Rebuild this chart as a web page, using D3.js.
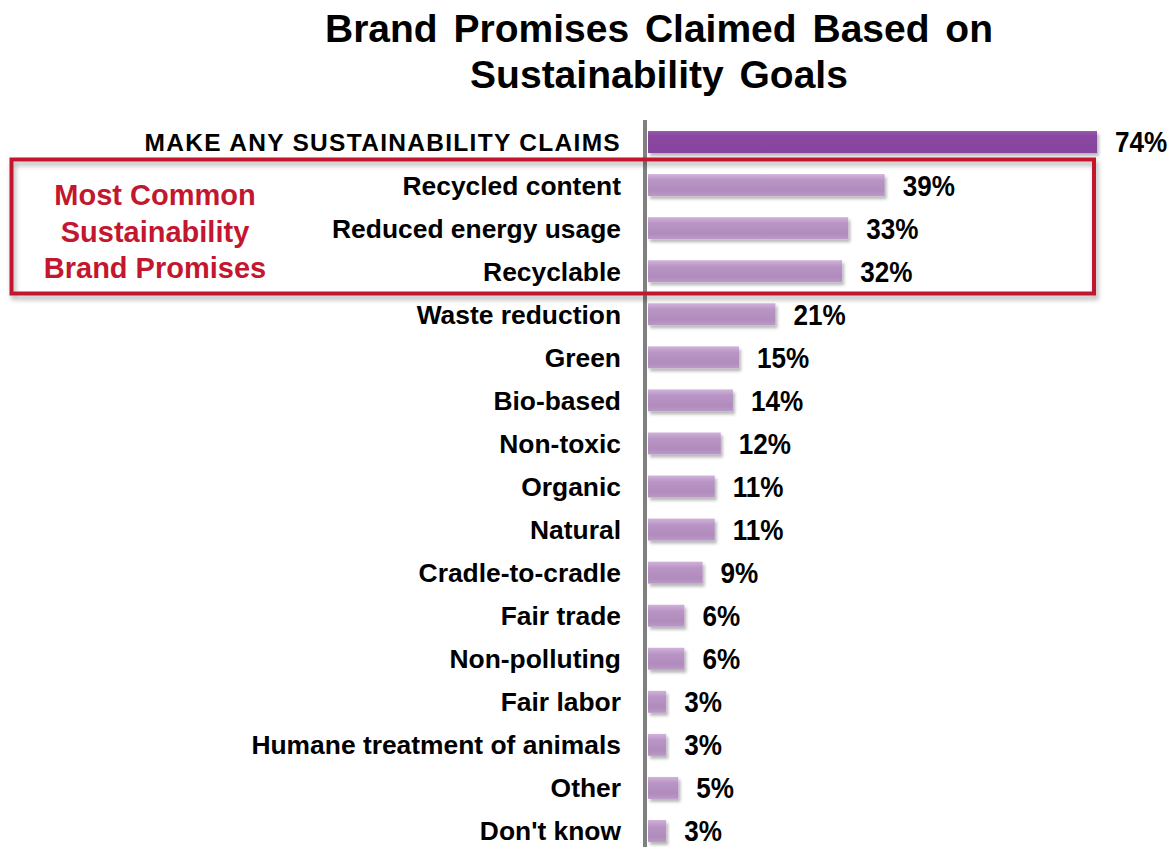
<!DOCTYPE html>
<html>
<head>
<meta charset="utf-8">
<script src="https://cdn.jsdelivr.net/npm/d3@7"></script>
<style>
  html, body { margin: 0; padding: 0; background: #ffffff; }
  svg { display: block; }
  text { font-family: "Liberation Sans", Arial, Helvetica, sans-serif; font-weight: bold; }
</style>
</head>
<body>
<svg id="chart" width="1173" height="847"></svg>
<script>
// Survey results: share of brands claiming each sustainability promise (%)
const categories = [
  "MAKE ANY SUSTAINABILITY CLAIMS",
  "Recycled content",
  "Reduced energy usage",
  "Recyclable",
  "Waste reduction",
  "Green",
  "Bio-based",
  "Non-toxic",
  "Organic",
  "Natural",
  "Cradle-to-cradle",
  "Fair trade",
  "Non-polluting",
  "Fair labor",
  "Humane treatment of animals",
  "Other",
  "Don't know"
];
const values = [74, 39, 33, 32, 21, 15, 14, 12, 11, 11, 9, 6, 6, 3, 3, 5, 3];

// Categories grouped inside the callout box
const highlighted = ["Recycled content", "Reduced energy usage", "Recyclable"];
const calloutLines = ["Most Common", "Sustainability", "Brand Promises"];
const titleLines = ["Brand Promises Claimed Based on", "Sustainability Goals"];

const data = categories.map((c, i) => ({ category: c, value: values[i] }));

const svg = d3.select("#chart");
const defs = svg.append("defs");

// soft drop shadow used by the bars and the callout box
const shadow = defs.append("filter").attr("id", "shadow")
  .attr("x", "-10%").attr("y", "-30%").attr("width", "130%").attr("height", "190%");
shadow.append("feDropShadow")
  .attr("dx", 2).attr("dy", 3).attr("stdDeviation", 1.8)
  .attr("flood-color", "#000").attr("flood-opacity", 0.28);

const boxShadow = defs.append("filter").attr("id", "boxShadow")
  .attr("x", "-5%").attr("y", "-10%").attr("width", "110%").attr("height", "130%");
boxShadow.append("feDropShadow")
  .attr("dx", 2).attr("dy", 4).attr("stdDeviation", 2.5)
  .attr("flood-color", "#000").attr("flood-opacity", 0.3);

// lavender fill for the individual promises
const lightGrad = defs.append("linearGradient").attr("id", "lightBar")
  .attr("x1", 0).attr("y1", 0).attr("x2", 0).attr("y2", 1);
lightGrad.append("stop").attr("offset", "0%").attr("stop-color", "#d1b3da");
lightGrad.append("stop").attr("offset", "28%").attr("stop-color", "#b995c5");
lightGrad.append("stop").attr("offset", "75%").attr("stop-color", "#b08bbc");
lightGrad.append("stop").attr("offset", "100%").attr("stop-color", "#bb9ac7");

// stronger purple for the overall total
const darkGrad = defs.append("linearGradient").attr("id", "darkBar")
  .attr("x1", 0).attr("y1", 0).attr("x2", 0).attr("y2", 1);
darkGrad.append("stop").attr("offset", "0%").attr("stop-color", "#9456aa");
darkGrad.append("stop").attr("offset", "25%").attr("stop-color", "#8a47a1");
darkGrad.append("stop").attr("offset", "100%").attr("stop-color", "#87449e");

// scales
const x = d3.scaleLinear().domain([0, 74]).range([648, 1097]);
const y = d3.scaleBand()
  .domain(categories)
  .range([120.5, 852.5])
  .paddingInner(0.49)
  .paddingOuter(0.245);

// title
svg.append("g").selectAll("text")
  .data(titleLines)
  .join("text")
  .attr("x", 659)
  .attr("y", (d, i) => 42 + i * 46)
  .attr("text-anchor", "middle")
  .attr("font-size", 39)
  .attr("word-spacing", 5)
  .attr("fill", "#000")
  .text(d => d);

// vertical baseline axis
svg.append("line")
  .attr("x1", 645).attr("x2", 645)
  .attr("y1", 120).attr("y2", 847)
  .attr("stroke", "#808080")
  .attr("stroke-width", 4);

// bars
svg.append("g").selectAll("rect")
  .data(data)
  .join("rect")
  .attr("x", x(0))
  .attr("y", d => y(d.category))
  .attr("width", d => x(d.value) - x(0))
  .attr("height", y.bandwidth())
  .attr("fill", (d, i) => i === 0 ? "url(#darkBar)" : "url(#lightBar)")
  .attr("filter", "url(#shadow)");

// category labels
svg.append("g").selectAll("text")
  .data(data)
  .join("text")
  .attr("x", 621)
  .attr("y", d => y(d.category) + y.bandwidth() / 2)
  .attr("dy", "0.36em")
  .attr("text-anchor", "end")
  .attr("font-size", (d, i) => i === 0 ? 24.5 : 26.4)
  .attr("letter-spacing", (d, i) => i === 0 ? 1.3 : 0)
  .attr("fill", "#000")
  .text(d => d.category);

// value labels (slightly condensed, tall figures)
svg.append("g").selectAll("text")
  .data(data)
  .join("text")
  .attr("transform", d => `translate(${x(d.value) + 18},${y(d.category) + y.bandwidth() / 2}) scale(0.9,1)`)
  .attr("dy", "0.36em")
  .attr("font-size", 29)
  .attr("fill", "#000")
  .text(d => d.value + "%");

// callout box around the most common promises
const first = highlighted[0], last = highlighted[highlighted.length - 1];
const boxTop = y(first) + y.bandwidth() / 2 - 25.6;
const boxBottom = y(last) + y.bandwidth() / 2 + 22.3;
svg.append("rect")
  .attr("x", 11.5)
  .attr("y", boxTop)
  .attr("width", 1094 - 11.5)
  .attr("height", boxBottom - boxTop)
  .attr("fill", "none")
  .attr("stroke", "#c3172f")
  .attr("stroke-width", 4)
  .attr("filter", "url(#boxShadow)");

svg.append("g").selectAll("text")
  .data(calloutLines)
  .join("text")
  .attr("x", 155)
  .attr("y", (d, i) => 205 + i * 36.5)
  .attr("text-anchor", "middle")
  .attr("font-size", 29)
  .attr("fill", "#c3172f")
  .text(d => d);
</script>
</body>
</html>
